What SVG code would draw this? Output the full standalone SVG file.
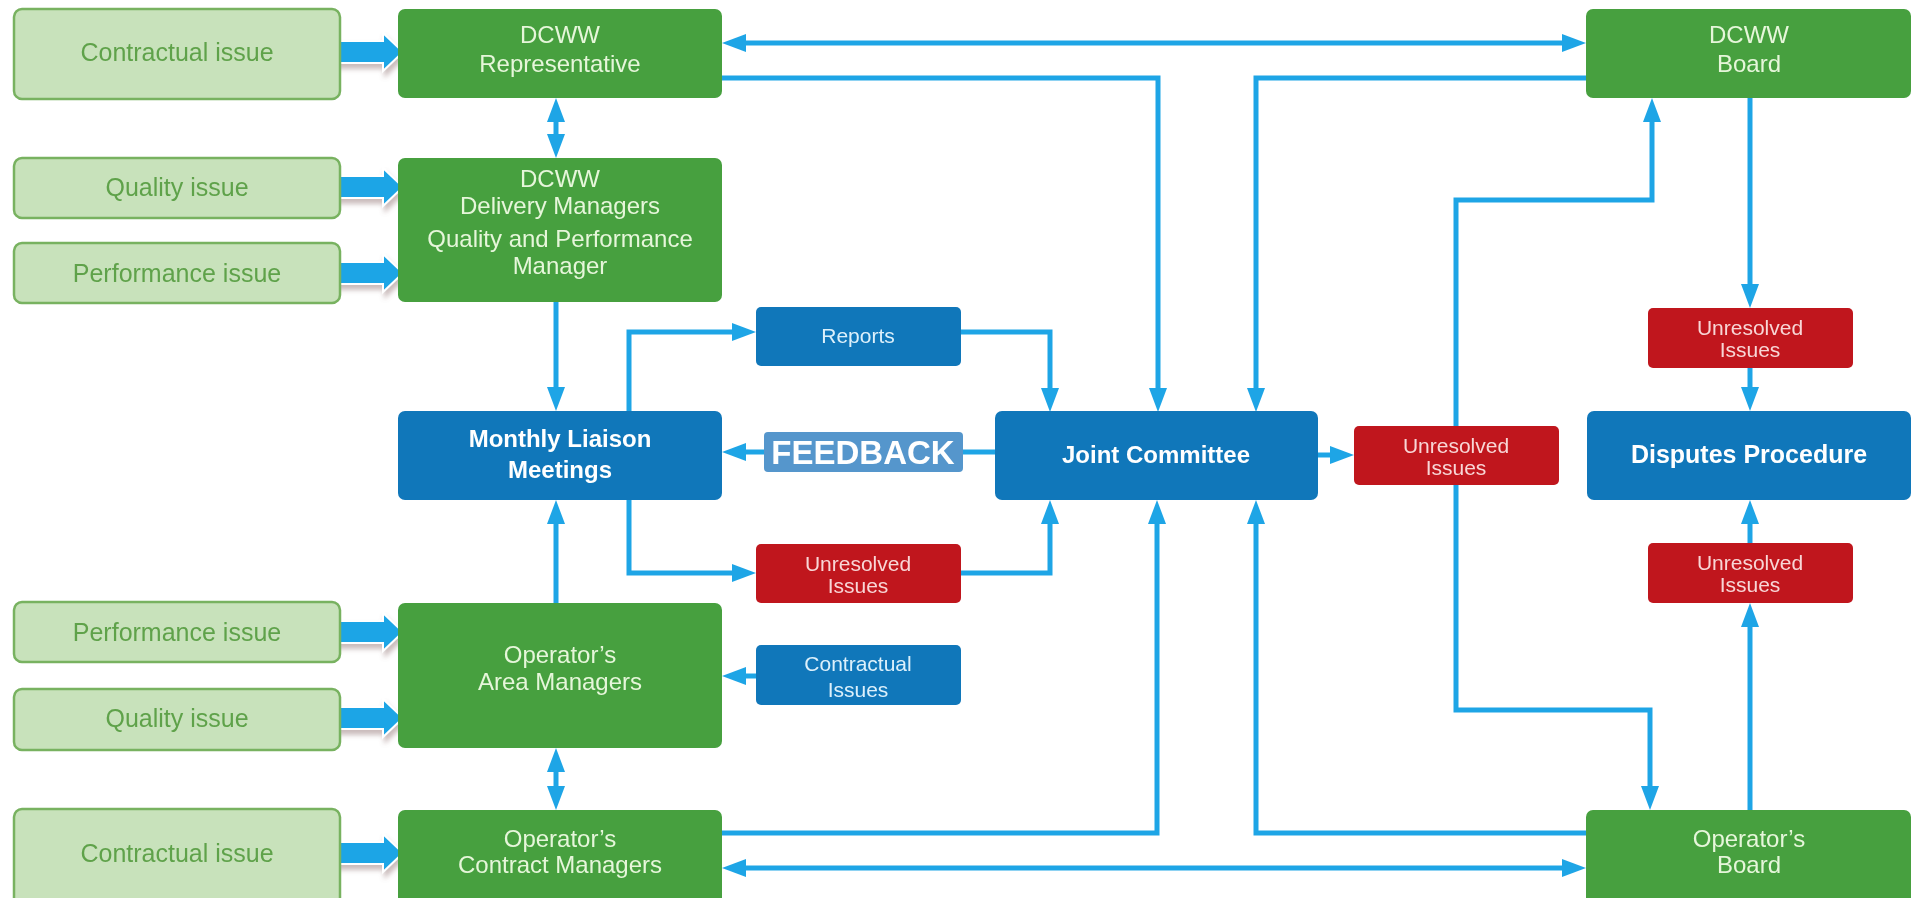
<svg xmlns="http://www.w3.org/2000/svg" width="1916" height="898" viewBox="0 0 1916 898">
<style>
.issue rect{fill:#c8e2bb;stroke:#78b260;stroke-width:2.5}
.issue text{fill:#5fa24a;font-family:"Liberation Sans",Arial,sans-serif;font-size:25px;text-anchor:middle}
.g rect{fill:#47a03f}
.g text{fill:#e6f6da;font-family:"Liberation Sans",Arial,sans-serif;font-size:24px;text-anchor:middle}
.b rect{fill:#1077ba}
.b text{fill:#ffffff;font-family:"Liberation Sans",Arial,sans-serif;font-size:24px;font-weight:bold;text-anchor:middle}
.bs rect{fill:#1077ba}
.bs text{fill:#dcf0fb;font-family:"Liberation Sans",Arial,sans-serif;font-size:21px;text-anchor:middle}
.r rect{fill:#c0161d}
.r text{fill:#f8d6d6;font-family:"Liberation Sans",Arial,sans-serif;font-size:21px;text-anchor:middle}
.c path{fill:none;stroke:#1ea5e6;stroke-width:5}
.fat{fill:#1ea5e6;stroke:#ffffff;stroke-width:2}
</style>
<defs>
<marker id="ah" markerUnits="userSpaceOnUse" markerWidth="26" markerHeight="20" refX="16" refY="9" orient="auto-start-reverse">
<path d="M0,0 L24,9 L0,18 Z" fill="#1ea5e6"/>
</marker>
<filter id="sh" x="-20%" y="-30%" width="140%" height="180%">
<feGaussianBlur in="SourceAlpha" stdDeviation="2.5"/>
<feOffset dx="2" dy="5" result="o"/>
<feFlood flood-color="#8a6a6a" flood-opacity="0.45"/>
<feComposite in2="o" operator="in"/>
<feMerge><feMergeNode/><feMergeNode in="SourceGraphic"/></feMerge>
</filter>
<path id="fa" d="M0,-11 H47 V-19 L67,0 L47,19 V11 H0 Z"/>
</defs>
<rect width="1916" height="898" fill="#ffffff"/>

<g id="connectors" class="c">
<path d="M730,43 H1578" marker-start="url(#ah)" marker-end="url(#ah)"/>
<path d="M722,78 H1158 V404" marker-end="url(#ah)"/>
<path d="M1586,78 H1256 V404" marker-end="url(#ah)"/>
<path d="M556,106 V150" marker-start="url(#ah)" marker-end="url(#ah)"/>
<path d="M556,302 V403" marker-end="url(#ah)"/>
<path d="M629,411 V332 H748" marker-end="url(#ah)"/>
<path d="M961,332 H1050 V404" marker-end="url(#ah)"/>
<path d="M995,452 H730" marker-end="url(#ah)"/>
<path d="M629,500 V573 H748" marker-end="url(#ah)"/>
<path d="M961,573 H1050 V508" marker-end="url(#ah)"/>
<path d="M556,603 V508" marker-end="url(#ah)"/>
<path d="M756,676 H730" marker-end="url(#ah)"/>
<path d="M556,756 V802" marker-start="url(#ah)" marker-end="url(#ah)"/>
<path d="M722,833 H1157 V508" marker-end="url(#ah)"/>
<path d="M1586,833 H1256 V508" marker-end="url(#ah)"/>
<path d="M730,868 H1578" marker-start="url(#ah)" marker-end="url(#ah)"/>
<path d="M1318,455 H1346" marker-end="url(#ah)"/>
<path d="M1456,426 V200 H1652 V106" marker-end="url(#ah)"/>
<path d="M1456,485 V710 H1650 V802" marker-end="url(#ah)"/>
<path d="M1750,98 V300" marker-end="url(#ah)"/>
<path d="M1750,368 V403" marker-end="url(#ah)"/>
<path d="M1750,810 V611" marker-end="url(#ah)"/>
<path d="M1750,543 V508" marker-end="url(#ah)"/>
</g>

<g id="fat-arrows" filter="url(#sh)">
<use href="#fa" class="fat" transform="translate(336,52)"/>
<use href="#fa" class="fat" transform="translate(336,187)"/>
<use href="#fa" class="fat" transform="translate(336,273)"/>
<use href="#fa" class="fat" transform="translate(336,632)"/>
<use href="#fa" class="fat" transform="translate(336,718)"/>
<use href="#fa" class="fat" transform="translate(336,853)"/>
</g>

<g id="issue-contractual-top" class="issue"><rect x="14" y="9" width="326" height="90" rx="8"/><text x="177" y="61">Contractual issue</text></g>
<g id="issue-quality-top" class="issue"><rect x="14" y="158" width="326" height="60" rx="8"/><text x="177" y="196">Quality issue</text></g>
<g id="issue-performance-top" class="issue"><rect x="14" y="243" width="326" height="60" rx="8"/><text x="177" y="282">Performance issue</text></g>
<g id="issue-performance-bottom" class="issue"><rect x="14" y="602" width="326" height="60" rx="8"/><text x="177" y="641">Performance issue</text></g>
<g id="issue-quality-bottom" class="issue"><rect x="14" y="689" width="326" height="61" rx="8"/><text x="177" y="727">Quality issue</text></g>
<g id="issue-contractual-bottom" class="issue"><rect x="14" y="809" width="326" height="100" rx="8"/><text x="177" y="862">Contractual issue</text></g>

<g id="dcww-representative" class="g"><rect x="398" y="9" width="324" height="89" rx="7"/><text x="560" y="43">DCWW</text><text x="560" y="72">Representative</text></g>
<g id="dcww-delivery" class="g"><rect x="398" y="158" width="324" height="144" rx="7"/><text x="560" y="187">DCWW</text><text x="560" y="214">Delivery Managers</text><text x="560" y="247">Quality and Performance</text><text x="560" y="274">Manager</text></g>
<g id="operator-area" class="g"><rect x="398" y="603" width="324" height="145" rx="7"/><text x="560" y="663">Operator’s</text><text x="560" y="690">Area Managers</text></g>
<g id="operator-contract" class="g"><rect x="398" y="810" width="324" height="100" rx="7"/><text x="560" y="847">Operator’s</text><text x="560" y="873">Contract Managers</text></g>
<g id="dcww-board" class="g"><rect x="1586" y="9" width="325" height="89" rx="7"/><text x="1749" y="43">DCWW</text><text x="1749" y="72">Board</text></g>
<g id="operator-board" class="g"><rect x="1586" y="810" width="325" height="100" rx="7"/><text x="1749" y="847">Operator’s</text><text x="1749" y="873">Board</text></g>

<g id="monthly-liaison" class="b"><rect x="398" y="411" width="324" height="89" rx="7"/><text x="560" y="447">Monthly Liaison</text><text x="560" y="478">Meetings</text></g>
<g id="joint-committee" class="b"><rect x="995" y="411" width="323" height="89" rx="7"/><text x="1156" y="463">Joint Committee</text></g>
<g id="disputes-procedure" class="b"><rect x="1587" y="411" width="324" height="89" rx="7"/><text x="1749" y="463" style="font-size:25px">Disputes Procedure</text></g>

<g id="reports" class="bs"><rect x="756" y="307" width="205" height="59" rx="5"/><text x="858" y="343">Reports</text></g>
<g id="contractual-issues" class="bs"><rect x="756" y="645" width="205" height="60" rx="5"/><text x="858" y="671">Contractual</text><text x="858" y="697">Issues</text></g>

<g id="unresolved-jc" class="r"><rect x="756" y="544" width="205" height="59" rx="5"/><text x="858" y="571">Unresolved</text><text x="858" y="593">Issues</text></g>
<g id="unresolved-mid" class="r"><rect x="1354" y="426" width="205" height="59" rx="5"/><text x="1456" y="453">Unresolved</text><text x="1456" y="475">Issues</text></g>
<g id="unresolved-top-right" class="r"><rect x="1648" y="308" width="205" height="60" rx="5"/><text x="1750" y="335">Unresolved</text><text x="1750" y="357">Issues</text></g>
<g id="unresolved-bottom-right" class="r"><rect x="1648" y="543" width="205" height="60" rx="5"/><text x="1750" y="570">Unresolved</text><text x="1750" y="592">Issues</text></g>

<g id="feedback"><rect x="764" y="432" width="199" height="40" rx="4" fill="#5596cc"/><text x="863" y="464" fill="#ffffff" font-family="'Liberation Sans',Arial,sans-serif" font-size="33" font-weight="bold" text-anchor="middle">FEEDBACK</text></g>
</svg>
